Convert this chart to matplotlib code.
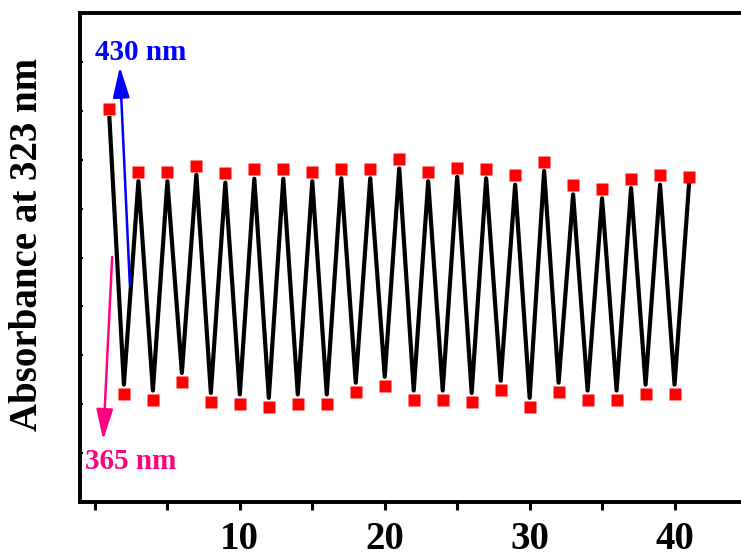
import matplotlib
matplotlib.use('Agg')
import matplotlib.pyplot as plt
from matplotlib.ticker import FixedLocator, FuncFormatter, MultipleLocator

plt.rcParams['font.family'] = ['Liberation Serif', 'DejaVu Serif']
plt.rcParams['font.weight'] = 'bold'

# cycle number
cycles = list(range(1, 42))
# absorbance read at the red squares (arb. units, 0-10 scale)
abs_points = [8.04, 2.21, 6.75, 2.09, 6.75, 2.45, 6.88, 2.04, 6.72, 2.01,
              6.80, 1.94, 6.80, 2.01, 6.75, 2.01, 6.81, 2.25, 6.81, 2.37,
              7.01, 2.09, 6.75, 2.09, 6.84, 2.04, 6.81, 2.29, 6.68, 1.94,
              6.96, 2.25, 6.48, 2.09, 6.40, 2.09, 6.61, 2.21, 6.68, 2.21,
              6.64]
# absorbance of the black trace
abs_line = [7.85, 2.40, 6.56, 2.28, 6.56, 2.64, 6.69, 2.23, 6.53, 2.20,
            6.61, 2.13, 6.61, 2.20, 6.56, 2.20, 6.62, 2.44, 6.62, 2.56,
            6.82, 2.28, 6.56, 2.28, 6.65, 2.23, 6.62, 2.48, 6.49, 2.13,
            6.77, 2.44, 6.29, 2.28, 6.21, 2.28, 6.42, 2.40, 6.49, 2.40,
            6.50]

fig = plt.figure(figsize=(7.41, 5.58), dpi=100)
ax = fig.add_axes([80/741, 56/558, 667/741, 489/558])

ax.plot(cycles, abs_line, color='black', lw=3, solid_joinstyle='round', zorder=2)
ax.plot(cycles, abs_points, ls='none', marker='s', ms=8, color='red',
        mec='none', zorder=3)

ax.set_xlim(-1.03, 45)
ax.set_ylim(0, 10)

for s in ax.spines.values():
    s.set_linewidth(2.8)

ax.xaxis.set_major_locator(FixedLocator(range(0, 50, 5)))
ax.xaxis.set_minor_locator(MultipleLocator(2.5))
ax.xaxis.set_major_formatter(FuncFormatter(
    lambda v, p: '%d' % v if v > 0 and v % 10 == 0 else ''))
ax.tick_params(axis='x', which='major', direction='out', length=6, width=2.2,
               labelsize=28, pad=8)
ax.tick_params(axis='x', which='minor', direction='out', length=1.5, width=1.5)
for lab in ax.get_xticklabels():
    lab.set_fontweight('bold')

ax.yaxis.set_major_locator(MultipleLocator(1))
ax.tick_params(axis='y', which='major', direction='in', length=2.5, width=1.5,
               labelleft=False)

top = ax.secondary_xaxis('top')
top.set_xticks([v * 2.5 for v in range(19)])
top.tick_params(direction='in', length=1.5, width=1.2, labeltop=False)
top.set_xticklabels([])

ax.set_ylabel('Absorbance at 323 nm', fontsize=28, fontweight='bold')
ax.yaxis.set_label_coords(-0.078, 0.526)
ax.yaxis.label.set_verticalalignment('center')

head = '-|>,head_length=1.1,head_width=0.3'
ax.annotate('', xy=(1.72, 8.90), xytext=(2.41, 4.44),
            arrowprops=dict(arrowstyle=head, color='#0000ff', lw=1.8,
                            shrinkA=0, shrinkB=0, mutation_scale=17))
ax.text(0.0, 9.20, '430 nm', color='#0000ff', fontsize=21, fontweight='bold',
        ha='left', va='center')

ax.annotate('', xy=(0.57, 1.27), xytext=(1.19, 5.01),
            arrowprops=dict(arrowstyle=head, color='#ff0080', lw=1.8,
                            shrinkA=0, shrinkB=0, mutation_scale=17))
ax.text(-0.69, 0.82, '365 nm', color='#ff0080', fontsize=21, fontweight='bold',
        ha='left', va='center')

fig.savefig('out.png', dpi=100)
